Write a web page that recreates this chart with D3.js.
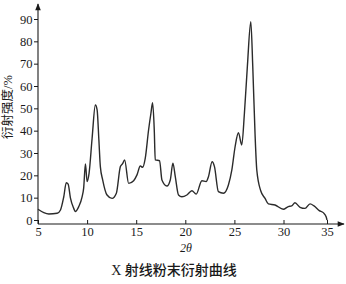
<!DOCTYPE html>
<html>
<head>
<meta charset="utf-8">
<script src="https://cdn.jsdelivr.net/npm/d3@7"></script>
<style>
	body { margin: 0; background: #fff; }
	svg { display: block; }
	text { fill: #1a1a1a; }
</style>
</head>
<body>
<svg id="chart" width="346" height="284"></svg>
<script>
// 2θ positions and diffraction intensity (%)
var twoTheta = [5.00, 5.59, 6.10, 6.95, 7.29, 7.62, 7.88, 8.07, 8.30, 8.64,
	8.79, 9.15, 9.49, 9.65, 9.83, 10.00, 10.20, 10.51, 10.84, 11.02,
	11.20, 11.35, 11.59, 12.03, 12.54, 12.98, 13.39, 13.60, 13.82, 14.23,
	14.74, 15.08, 15.42, 15.65, 15.92, 16.26, 16.50, 16.67, 16.84, 16.94,
	17.38, 17.62, 18.13, 18.47, 18.74, 18.98, 19.31, 19.65, 20.16, 20.67,
	21.11, 21.69, 22.12, 22.36, 22.73, 22.97, 23.37, 23.88, 24.39, 24.74,
	25.07, 25.41, 25.75, 26.02, 26.32, 26.67, 26.87, 27.10, 27.28, 27.68,
	28.12, 28.46, 29.14, 29.98, 30.55, 30.94, 31.32, 31.90, 32.47, 33.05,
	33.51, 34.11, 34.57, 34.90, 35.00];
var intensity = [4.8, 3.3, 2.7, 3.0, 4.5, 10.3, 16.7, 16.1, 9.9, 5.2,
	3.8, 6.0, 10.4, 14.3, 25.1, 17.2, 20.9, 36.6, 51.5, 49.3,
	35.8, 23.9, 17.9, 11.2, 9.7, 12.0, 23.9, 25.1, 26.9, 16.4,
	17.6, 20.2, 24.2, 23.6, 27.6, 40.3, 47.8, 52.5, 40.3, 26.9,
	26.6, 17.9, 15.2, 17.9, 25.4, 19.4, 11.2, 10.4, 11.2, 13.1,
	11.6, 17.6, 17.2, 19.4, 26.1, 23.9, 12.7, 12.0, 15.7, 22.4,
	32.8, 39.1, 33.6, 47.8, 68.7, 88.8, 68.7, 38.8, 22.4, 13.1,
	9.7, 7.2, 6.7, 4.8, 6.0, 6.3, 7.7, 5.7, 5.2, 7.2,
	6.3, 4.2, 3.3, 1.5, 0];

var xTicks = [5, 10, 15, 20, 25, 30, 35];
var yTicks = [0, 10, 20, 30, 40, 50, 60, 70, 80, 90];
var xTitle = '2θ';
var yTitle = '衍射强度/%';
var caption = 'X 射线粉末衍射曲线';

var svg = d3.select('#chart');
var ink = '#1a1a1a';
var serif = '"Liberation Serif", "Noto Sans CJK SC", serif';

// the printed axis is slightly uneven: the last 5 units are narrower
var x = d3.scaleLinear()
	.domain([5, 30, 35])
	.range([38, 283.5, 327]);
var y = d3.scaleLinear()
	.domain([0, 90])
	.range([220, 19]);

var baseY = y(0) + 4;

// arrow head
svg.append('defs').append('marker')
	.attr('id', 'arrow')
	.attr('viewBox', '0 0 10 10')
	.attr('refX', 9)
	.attr('refY', 5)
	.attr('markerWidth', 9)
	.attr('markerHeight', 7)
	.attr('markerUnits', 'userSpaceOnUse')
	.attr('orient', 'auto')
	.append('path')
	.attr('d', 'M0,1 L10,5 L0,9 Z')
	.attr('fill', ink);

// axis lines
svg.append('line')
	.attr('x1', x(5)).attr('y1', baseY)
	.attr('x2', 344).attr('y2', baseY)
	.attr('stroke', ink).attr('stroke-width', 1.1)
	.attr('marker-end', 'url(#arrow)');
svg.append('line')
	.attr('x1', x(5)).attr('y1', baseY)
	.attr('x2', x(5)).attr('y2', 4)
	.attr('stroke', ink).attr('stroke-width', 1.1)
	.attr('marker-end', 'url(#arrow)');

// x axis ticks (pointing up)
var xAxis = svg.append('g')
	.attr('transform', 'translate(0,' + baseY + ')')
	.call(d3.axisBottom(x).tickValues(xTicks).tickSize(-4).tickPadding(3).tickFormat(d3.format('d')));
xAxis.select('.domain').remove();
xAxis.selectAll('line').attr('stroke', ink);
xAxis.selectAll('text')
	.attr('font-family', serif)
	.attr('font-size', 12.5)
	.attr('fill', ink);

// y axis ticks (pointing left)
var yAxis = svg.append('g')
	.attr('transform', 'translate(' + x(5) + ',0)')
	.call(d3.axisLeft(y).tickValues(yTicks).tickSize(4).tickPadding(1.5).tickFormat(d3.format('d')));
yAxis.select('.domain').remove();
yAxis.selectAll('line').attr('stroke', ink);
yAxis.selectAll('text')
	.attr('font-family', serif)
	.attr('font-size', 12.5)
	.attr('fill', ink);

// diffraction curve
var pts = twoTheta.map((t, i) => [t, intensity[i]]);
var line = d3.line()
	.x(d => x(d[0]))
	.y(d => y(d[1]))
	.curve(d3.curveMonotoneX);

svg.append('path')
	.datum(pts)
	.attr('d', line)
	.attr('fill', 'none')
	.attr('stroke', '#2b2b2b')
	.attr('stroke-width', 1.4)
	.attr('stroke-linejoin', 'round');

// titles
svg.append('text')
	.attr('x', 186)
	.attr('y', 252)
	.attr('text-anchor', 'middle')
	.attr('font-family', serif)
	.attr('font-style', 'italic')
	.attr('font-size', 12)
	.text(xTitle);

svg.append('text')
	.attr('transform', 'translate(12,107) rotate(-90)')
	.attr('text-anchor', 'middle')
	.attr('font-family', serif)
	.attr('font-size', 12.5)
	.text(yTitle);

svg.append('text')
	.attr('x', 174)
	.attr('y', 275)
	.attr('text-anchor', 'middle')
	.attr('font-family', serif)
	.attr('font-size', 14)
	.attr('font-weight', 500)
	.text(caption);
</script>
</body>
</html>
